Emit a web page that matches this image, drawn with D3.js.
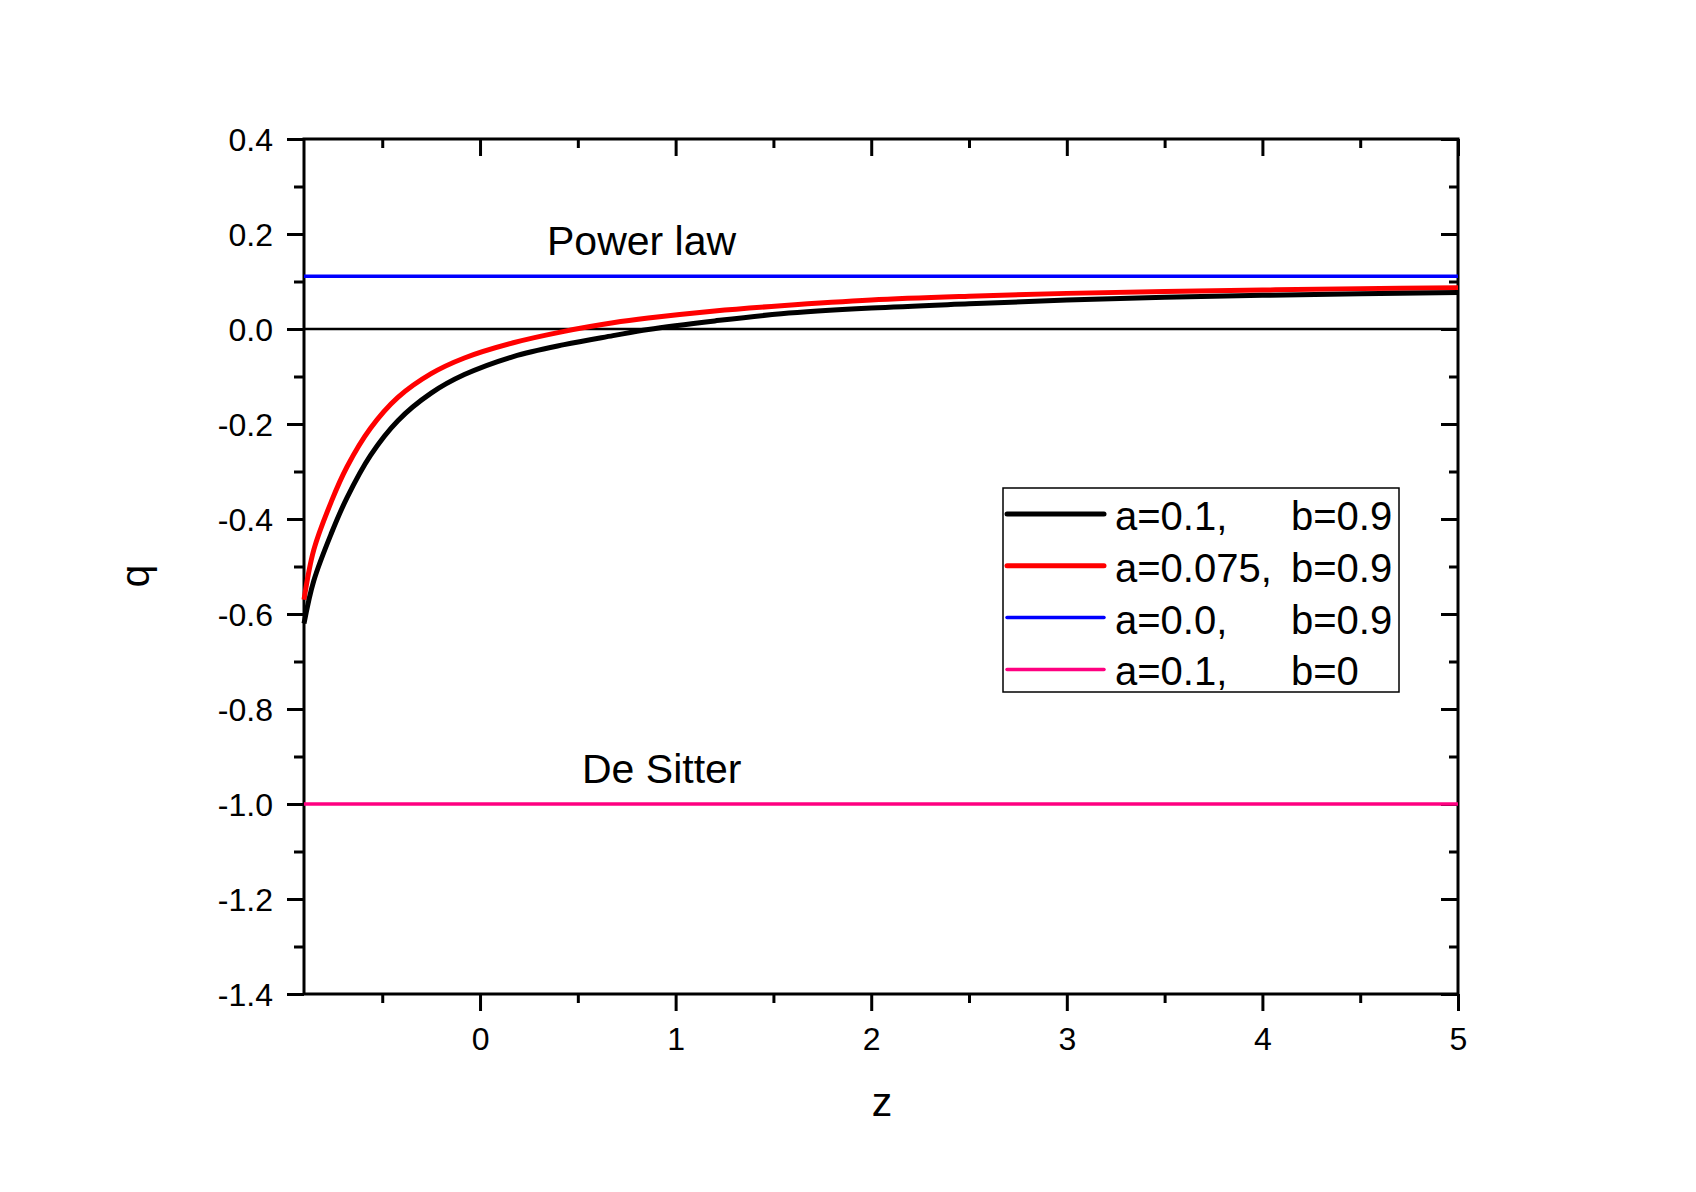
<!DOCTYPE html>
<html>
<head>
<meta charset="utf-8">
<script src="https://cdn.jsdelivr.net/npm/d3@7"></script>
<style>
  body { margin: 0; background: #fff; }
  text { font-family: "Liberation Sans", Arial, sans-serif; fill: #000; }
</style>
</head>
<body>
<div id="chart"></div>
<script>
// q(z) curves, values
var zValues = [-0.9, -0.85, -0.76, -0.68, -0.56, -0.42, -0.25, -0.08, 0.17, 0.43, 0.68, 0.86, 1.2, 1.54, 2, 2.5, 3, 3.5, 4, 4.5, 5];
var qBlack = [-0.62, -0.53, -0.43, -0.355, -0.266, -0.193, -0.135, -0.096, -0.058, -0.033, -0.014, -0.001, 0.017, 0.032, 0.044, 0.053, 0.061, 0.067, 0.071, 0.074, 0.077];
var qRed = [-0.57, -0.465, -0.363, -0.29, -0.209, -0.144, -0.094, -0.061, -0.029, -0.005, 0.013, 0.023, 0.038, 0.049, 0.061, 0.069, 0.075, 0.079, 0.082, 0.085, 0.087];
var qPowerLaw = 0.111;
var qDeSitter = -1.0;

var xMajor = [0, 1, 2, 3, 4, 5];
var xMinor = [-0.5, 0.5, 1.5, 2.5, 3.5, 4.5];
var yMajor = [-1.4, -1.2, -1.0, -0.8, -0.6, -0.4, -0.2, 0.0, 0.2, 0.4];
var yMinor = [-1.3, -1.1, -0.9, -0.7, -0.5, -0.3, -0.1, 0.1, 0.3];

var legendA = ["a=0.1,", "a=0.075,", "a=0.0,", "a=0.1,"];
var legendB = ["b=0.9", "b=0.9", "b=0.9", "b=0"];
var legendColors = ["#000000", "#ff0000", "#0000ff", "#ff0080"];
var legendWidths = [5, 5, 3.5, 3.5];

var svgWidth = 1696;
var svgHeight = 1192;

var svg = d3.select("#chart")
    .append("svg")
    .attr("width", svgWidth)
    .attr("height", svgHeight);

var x = d3.scaleLinear().domain([-0.9, 5]).range([304, 1458]);
var y = d3.scaleLinear().domain([-1.4, 0.4]).range([994, 139]);

// plain hyphen minus like the original, not the unicode one d3 uses
var fmtY = function(d) { return d.toFixed(1).replace("\u2212", "-"); };

// ticks: major then minor, for each side
function drawAxis(axisFn, scale, major, minor, size, minorSize, transform, fmt) {
    var g = svg.append("g").attr("transform", transform);
    g.call(axisFn(scale).tickValues(minor).tickSizeInner(minorSize).tickSizeOuter(0).tickFormat(""));
    g.selectAll(".domain").remove();
    var g2 = svg.append("g").attr("transform", transform);
    g2.call(axisFn(scale).tickValues(major).tickSizeInner(size).tickSizeOuter(0).tickFormat(fmt || ""));
    g2.selectAll(".domain").remove();
    [g, g2].forEach(function(s) {
        s.selectAll(".tick line").attr("stroke", "#000").attr("stroke-width", 3);
    });
    return g2;
}

var bottom = drawAxis(d3.axisBottom, x, xMajor, xMinor, 17, 9, "translate(0," + y(-1.4) + ")", function(d) { return String(d); });
bottom.selectAll(".tick text")
    .attr("y", 0).attr("dy", 0)
    .attr("transform", "translate(0,56)")
    .style("font-size", "32px");

drawAxis(d3.axisTop, x, xMajor, xMinor, -17, -9, "translate(0," + y(0.4) + ")");

var left = drawAxis(d3.axisLeft, y, yMajor, yMinor, 17, 10, "translate(" + x(-0.9) + ",0)", fmtY);
left.selectAll(".tick text")
    .attr("x", -31).attr("dy", "0.35em")
    .style("font-size", "32px");

drawAxis(d3.axisRight, y, yMajor, yMinor, -17, -9, "translate(" + x(5) + ",0)");

// frame
svg.append("rect")
    .attr("x", x(-0.9))
    .attr("y", y(0.4))
    .attr("width", x(5) - x(-0.9))
    .attr("height", y(-1.4) - y(0.4))
    .attr("fill", "none")
    .attr("stroke", "#000")
    .attr("stroke-width", 3);

// zero line
svg.append("line")
    .attr("x1", x(-0.9)).attr("x2", x(5))
    .attr("y1", y(0)).attr("y2", y(0))
    .attr("stroke", "#000")
    .attr("stroke-width", 2.5);

// horizontal reference lines
svg.append("line")
    .attr("x1", x(-0.9)).attr("x2", x(5))
    .attr("y1", y(qPowerLaw)).attr("y2", y(qPowerLaw))
    .attr("stroke", "#0000ff")
    .attr("stroke-width", 3.5);

svg.append("line")
    .attr("x1", x(-0.9)).attr("x2", x(5))
    .attr("y1", y(qDeSitter)).attr("y2", y(qDeSitter))
    .attr("stroke", "#ff0080")
    .attr("stroke-width", 3.5);

var line = d3.line()
    .x(function(d) { return x(d[0]); })
    .y(function(d) { return y(d[1]); })
    .curve(d3.curveCatmullRom.alpha(0.5));

svg.append("path")
    .datum(zValues.map(function(z, i) { return [z, qRed[i]]; }))
    .attr("d", line)
    .attr("fill", "none")
    .attr("stroke", "#ff0000")
    .attr("stroke-width", 5);

svg.append("path")
    .datum(zValues.map(function(z, i) { return [z, qBlack[i]]; }))
    .attr("d", line)
    .attr("fill", "none")
    .attr("stroke", "#000")
    .attr("stroke-width", 5);

// annotations
svg.append("text")
    .attr("x", 547).attr("y", 255)
    .style("font-size", "41px")
    .text("Power law");

svg.append("text")
    .attr("x", 582).attr("y", 783)
    .style("font-size", "41px")
    .text("De Sitter");

// axis titles
svg.append("text")
    .attr("transform", "translate(149,576) rotate(-90)")
    .attr("text-anchor", "middle")
    .style("font-size", "41px")
    .text("q");

svg.append("text")
    .attr("x", 882).attr("y", 1116)
    .attr("text-anchor", "middle")
    .style("font-size", "41px")
    .text("z");

// legend
var legend = svg.append("g");
legend.append("rect")
    .attr("x", 1003).attr("y", 488)
    .attr("width", 396).attr("height", 204)
    .attr("fill", "#fff")
    .attr("stroke", "#000")
    .attr("stroke-width", 1.5);

legendA.forEach(function(label, i) {
    var rowY = 514 + i * 51.8;
    legend.append("line")
        .attr("x1", 1007).attr("x2", 1104)
        .attr("y1", rowY).attr("y2", rowY)
        .attr("stroke", legendColors[i])
        .attr("stroke-width", legendWidths[i])
        .attr("stroke-linecap", "round");
    legend.append("text")
        .attr("x", 1115).attr("y", rowY + 16)
        .style("font-size", "40px")
        .text(label);
    legend.append("text")
        .attr("x", 1291).attr("y", rowY + 16)
        .style("font-size", "40px")
        .text(legendB[i]);
});
</script>
</body>
</html>
